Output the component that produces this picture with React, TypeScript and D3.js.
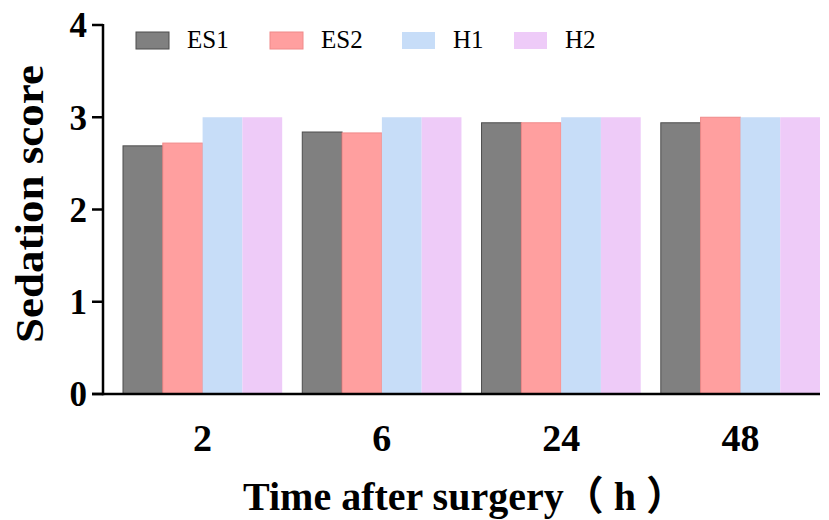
import React from "react";
import * as d3 from "d3";

const categories = ["2", "6", "24", "48"];
const seriesNames = ["ES1", "ES2", "H1", "H2"];
const es1 = [2.69, 2.84, 2.94, 2.94];
const es2 = [2.72, 2.83, 2.94, 3.0];
const h1 = [3.0, 3.0, 3.0, 3.0];
const h2 = [3.0, 3.0, 3.0, 3.0];
const yTicks = [0, 1, 2, 3, 4];

const colors = ["#808080", "#FF9F9F", "#C7DDF8", "#EECBF8"];
const strokes = ["#4d4d4d", "#f08a8a", "none", "none"];
const legendX = [136, 270, 402, 514];

const W = 829;
const H = 520;
const axisX = 103;
const axisY = 394;
const font = "'Liberation Serif', 'Times New Roman', 'Noto Sans CJK SC', serif";

export default function App() {
  React.useEffect(() => {
    document.body.style.margin = "0";
  }, []);
  const series = [es1, es2, h1, h2];
  const x0 = d3.scaleBand<string>().domain(categories).range([123, 820]).paddingInner(0.112).paddingOuter(0);
  const x1 = d3.scaleBand<string>().domain(seriesNames).range([0, x0.bandwidth()]).padding(0);
  const y = d3.scaleLinear().domain([0, 4]).range([axisY, 25]);

  return (
    <svg width={W} height={H} style={{ display: "block", background: "#fff" }}>
      {/* bars */}
      {categories.map((c, i) => (
        <g key={c} transform={`translate(${x0(c)},0)`}>
          {seriesNames.map((s, j) => (
            <rect
              key={s}
              x={x1(s)!}
              y={y(series[j][i])}
              width={x1.bandwidth()}
              height={axisY - y(series[j][i])}
              fill={colors[j]}
              stroke={strokes[j]}
              strokeWidth={strokes[j] === "none" ? 0 : 1}
            />
          ))}
        </g>
      ))}
      {/* y axis */}
      <line x1={axisX} x2={axisX} y1={y(4) - 1} y2={axisY + 1.25} stroke="#000" strokeWidth={2.5} />
      {yTicks.map((t) => (
        <g key={t}>
          <line x1={axisX - 11} x2={axisX} y1={y(t)} y2={y(t)} stroke="#000" strokeWidth={2.5} />
          <text
            x={87}
            y={y(t)}
            dy="0.35em"
            textAnchor="end"
            fontFamily={font}
            fontWeight="bold"
            fontSize={35}
            fill="#000"
          >
            {t}
          </text>
        </g>
      ))}
      {/* x axis */}
      <line x1={axisX - 11} x2={820} y1={axisY} y2={axisY} stroke="#000" strokeWidth={2.5} />
      {categories.map((c) => (
        <text
          key={c}
          x={x0(c)! + x0.bandwidth() / 2}
          y={451}
          textAnchor="middle"
          fontFamily={font}
          fontWeight="bold"
          fontSize={38}
          fill="#000"
        >
          {c}
        </text>
      ))}
      {/* axis titles */}
      <text
        x={243}
        y={510}
        textAnchor="start"
        fontFamily={font}
        fontWeight="bold"
        fontSize={40}
        fill="#000"
        style={{ whiteSpace: "pre" }}
      >
        {"Time after surgery（ h ）"}
      </text>
      <text
        transform={`translate(43,204) rotate(-90)`}
        textAnchor="middle"
        fontFamily={font}
        fontWeight="bold"
        fontSize={39}
        textLength={278}
        lengthAdjust="spacingAndGlyphs"
        fill="#000"
      >
        Sedation score
      </text>
      {/* legend */}
      {seriesNames.map((s, j) => (
        <g key={s}>
          <rect
            x={legendX[j]}
            y={32}
            width={33}
            height={17}
            fill={colors[j]}
            stroke={strokes[j]}
            strokeWidth={strokes[j] === "none" ? 0 : 1}
          />
          <text x={legendX[j] + 51} y={48} fontFamily={font} fontSize={25} fill="#000">
            {s}
          </text>
        </g>
      ))}
    </svg>
  );
}
